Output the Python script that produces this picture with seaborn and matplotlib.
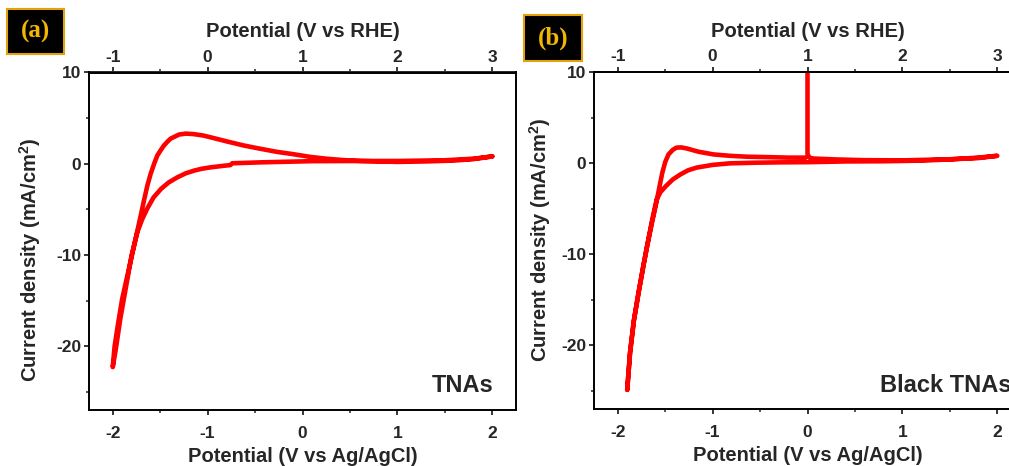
import numpy as np
import pandas as pd
import matplotlib
matplotlib.use("Agg")
import matplotlib.pyplot as plt
from matplotlib.patches import Rectangle
from matplotlib.ticker import MultipleLocator
import seaborn as sns

# ---------------- data ----------------
# Panel (a) TNAs: cathodic sweep (2 -> -2 V) then anodic sweep (-2 -> 2 V)
a_potential = [2.0, 1.8, 1.5, 1.0, 0.6, 0.1, -0.44, -0.74, -0.76, -0.85, -0.97, -1.06,
               -1.14, -1.23, -1.32, -1.41, -1.49, -1.57, -1.635, -1.69, -1.74, -1.80,
               -1.86, -1.92, -1.97, -2.0,
               -1.98, -1.94, -1.90, -1.84, -1.79, -1.75, -1.705, -1.67, -1.635, -1.60,
               -1.56, -1.53, -1.49, -1.46, -1.42, -1.39, -1.34, -1.30, -1.23, -1.15,
               -1.05, -0.97, -0.80, -0.62, -0.45, -0.27, -0.10, 0.08, 0.25, 0.43,
               0.61, 0.80, 1.0, 1.3, 1.6, 1.8, 2.0]
a_current = [0.8, 0.55, 0.38, 0.3, 0.3, 0.28, 0.15, 0.05, -0.15, -0.25, -0.4, -0.55,
             -0.75, -1.05, -1.5, -2.05, -2.75, -3.7, -4.9, -6.1, -7.5, -10.0,
             -13.5, -17.0, -20.5, -22.3,
             -20.0, -17.3, -14.8, -12.0, -9.7, -7.8, -5.7, -4.0, -2.4, -1.1,
             0.1, 0.9, 1.55, 2.0, 2.45, 2.75, 3.0, 3.2, 3.3, 3.25,
             3.1, 2.9, 2.45, 2.0, 1.65, 1.3, 1.05, 0.75, 0.55, 0.4,
             0.3, 0.25, 0.2, 0.25, 0.35, 0.5, 0.8]

# Panel (b) Black TNAs: initial transient at 0 V, sweep to 2 V, back to -1.9 V, then up to 0 V
b_potential = [0.0, 0.0, 0.0, 0.02, 0.06, 0.3, 0.6, 1.0, 1.5, 1.8, 2.0,
               1.8, 1.5, 1.2, 0.8, 0.4, 0.0, -0.29, -0.55, -0.82, -1.0, -1.17, -1.26,
               -1.34, -1.42, -1.49, -1.55, -1.59, -1.64, -1.69, -1.73, -1.78, -1.83,
               -1.87, -1.90,
               -1.87, -1.83, -1.78, -1.73, -1.69, -1.64, -1.60, -1.56, -1.53, -1.50,
               -1.465, -1.42, -1.38, -1.33, -1.27, -1.15, -0.99, -0.82, -0.64, -0.40,
               -0.20, -0.02]
b_current = [30.0, 5.0, 1.0, 0.6, 0.5, 0.4, 0.32, 0.3, 0.42, 0.55, 0.8,
             0.6, 0.4, 0.27, 0.2, 0.18, 0.1, 0.08, 0.04, -0.03, -0.2, -0.5, -0.8,
             -1.25, -1.8, -2.5, -3.2, -4.0, -6.4, -9.1, -11.3, -14.2, -17.3,
             -20.8, -24.9,
             -20.8, -17.3, -14.2, -11.3, -9.1, -6.6, -4.7, -2.6, -1.05, 0.1,
             0.95, 1.45, 1.7, 1.72, 1.6, 1.25, 0.95, 0.8, 0.7, 0.65,
             0.6, 0.6]

panel_tags = ["(a)", "(b)"]
sample_names = ["TNAs", "Black TNAs"]
x_label = "Potential (V vs Ag/AgCl)"
x2_label = "Potential (V vs RHE)"
y_label = r"Current density (mA/cm$^{2}$)"

# ---------------- style ----------------
sns.set_style("ticks")
plt.rcParams["font.family"] = ["Liberation Sans", "DejaVu Sans"]
plt.rcParams["font.weight"] = "bold"
plt.rcParams["axes.labelweight"] = "bold"
plt.rcParams["axes.unicode_minus"] = False
plt.rcParams["mathtext.fontset"] = "custom"
plt.rcParams["mathtext.rm"] = "Liberation Sans:bold"
plt.rcParams["mathtext.it"] = "Liberation Sans:bold"
plt.rcParams["mathtext.bf"] = "Liberation Sans:bold"

TICK_FS = 12.5
LABEL_FS = 14.5
NAME_FS = 17

W, H = 1009, 466
fig = plt.figure(figsize=(W / 100, H / 100), dpi=100)

def px_rect(l, t, r, b):
    return [l / W, (H - b) / H, (r - l) / W, (b - t) / H]

ax_a = fig.add_axes(px_rect(89, 72.5, 516, 410))
ax_b = fig.add_axes(px_rect(594, 72, 1021, 409))

df_a = pd.DataFrame({"E": a_potential, "j": a_current})
df_b = pd.DataFrame({"E": b_potential, "j": b_current})

RED = "#ff0000"
for ax, df in ((ax_a, df_a), (ax_b, df_b)):
    sns.lineplot(data=df, x="E", y="j", sort=False, estimator=None, color=RED,
                 lw=3.3, ax=ax, legend=False)
    ax.set_xlim(-2.25, 2.25)
    ax.set_ylim(-27, 10)
    ax.xaxis.set_major_locator(MultipleLocator(1))
    ax.xaxis.set_minor_locator(MultipleLocator(0.5))
    ax.yaxis.set_major_locator(MultipleLocator(10))
    ax.yaxis.set_minor_locator(MultipleLocator(5))
    for s in ax.spines.values():
        s.set_visible(True)
        s.set_linewidth(1.4)
        s.set_color("black")
    ax.tick_params(which="major", direction="out", length=3.5, width=1.3,
                   labelsize=TICK_FS, top=False, right=False)
    ax.tick_params(axis="x", which="major", pad=8)
    ax.tick_params(axis="y", which="major", pad=2)
    ax.tick_params(which="minor", direction="out", length=2.0, width=1.1,
                   top=False, right=False)
    for lab in ax.get_xticklabels() + ax.get_yticklabels():
        lab.set_fontweight("bold")
    ax.set_xlabel(x_label, fontsize=LABEL_FS, fontweight="bold", labelpad=4.5)
    ax.set_ylabel("")
    sec = ax.secondary_xaxis("top", functions=(lambda x: x + 1, lambda x: x - 1))
    sec.xaxis.set_major_locator(MultipleLocator(1))
    sec.xaxis.set_minor_locator(MultipleLocator(0.5))
    sec.spines["top"].set_linewidth(1.4)
    sec.tick_params(which="major", direction="out", length=3.5, width=1.3,
                    labelsize=TICK_FS, pad=2)
    sec.tick_params(which="minor", direction="out", length=2.0, width=1.1)
    for lab in sec.get_xticklabels():
        lab.set_fontweight("bold")
    sec.set_xlabel(x2_label, fontsize=LABEL_FS, fontweight="bold", labelpad=9)

# y labels
fig.text(30 / W, (H - 260) / H, y_label, rotation=90, ha="center", va="center",
         fontsize=LABEL_FS, fontweight="bold")
fig.text(540 / W, (H - 240) / H, y_label, rotation=90, ha="center", va="center",
         fontsize=LABEL_FS, fontweight="bold")

# sample names
ax_a.text(0.948, 0.074, sample_names[0], transform=ax_a.transAxes, ha="right",
          va="center", fontsize=NAME_FS, fontweight="bold")
ax_b.text(0.670, 0.071, sample_names[1], transform=ax_b.transAxes, ha="left",
          va="center", fontsize=NAME_FS, fontweight="bold")

# panel tags in black boxes
for (l, t, r, b), tag in zip([(7, 9, 64, 54), (524, 15, 582, 61)], panel_tags):
    fig.add_artist(Rectangle((l / W, (H - b) / H), (r - l) / W, (b - t) / H,
                             transform=fig.transFigure, facecolor="black",
                             edgecolor="#e2a20c", lw=1.5))
    fig.text((l + r) / 2 / W, (H - (t + b) / 2) / H, tag, ha="center", va="center",
             fontsize=18, fontweight="bold", color="#f2b705",
             family=["Liberation Serif", "DejaVu Serif"])

fig.savefig("out.png", dpi=100)
